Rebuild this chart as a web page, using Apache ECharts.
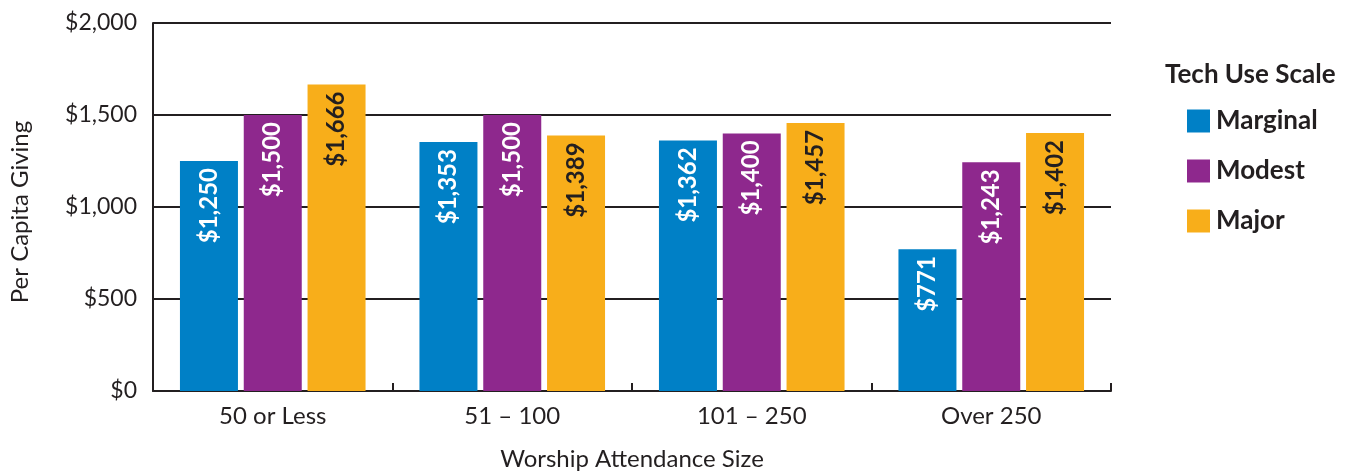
<!DOCTYPE html>
<html>
<head>
<meta charset="utf-8">
<script src="https://cdn.jsdelivr.net/npm/echarts@6/dist/echarts.min.js"></script>
<style>
  html, body { margin: 0; padding: 0; background: #fff; }
  #chart { width: 1364px; height: 476px; }
</style>
</head>
<body>
<div id="chart"></div>
<script>
var categories = ['50 or Less', '51 \u2013 100', '101 \u2013 250', 'Over 250'];
var seriesNames = ['Marginal', 'Modest', 'Major'];
var marginal = [1250, 1353, 1362, 771];
var modest = [1500, 1500, 1400, 1243];
var major = [1666, 1389, 1457, 1402];
var yTicks = [0, 500, 1000, 1500, 2000];

var ink = '#231f20';
var colors = ['#0080c6', '#8e288d', '#f8ae1a'];
var font = 'Lato, "Open Sans", sans-serif';

function money(v) {
  return '$' + v.toLocaleString('en-US');
}

function makeSeries(name, data, color, labelColor) {
  return {
    name: name,
    type: 'bar',
    data: data,
    barWidth: 58,
    barGap: '10%',
    itemStyle: { color: color },
    label: {
      show: true,
      position: 'insideTop',
      distance: 7,
      rotate: 90,
      align: 'right',
      verticalAlign: 'middle',
      color: labelColor,
      fontFamily: font,
      fontWeight: 'bold',
      fontSize: 24,
      formatter: function (p) { return money(p.value); }
    }
  };
}

var chart = echarts.init(document.getElementById('chart'));
chart.setOption({
  animation: false,
  backgroundColor: '#fff',
  title: {
    text: 'Tech Use Scale',
    left: 1160,
    top: 57,
    textStyle: { color: ink, fontFamily: font, fontWeight: 'bold', fontSize: 26 }
  },
  legend: {
    data: seriesNames,
    orient: 'vertical',
    left: 1182,
    top: 103,
    itemWidth: 23,
    itemHeight: 23,
    itemGap: 24,
    icon: 'rect',
    textStyle: { color: ink, fontFamily: font, fontWeight: 'bold', fontSize: 26, padding: [0, 0, 0, 1] }
  },
  grid: { left: 153, right: 253, top: 23, bottom: 81, containLabel: false },
  xAxis: {
    type: 'category',
    data: categories,
    name: 'Worship Attendance Size',
    nameLocation: 'middle',
    nameGap: 56,
    nameTextStyle: { color: ink, fontFamily: font, fontSize: 24 },
    axisLine: { lineStyle: { color: ink, width: 2 } },
    axisTick: { show: true, inside: true, length: 8, lineStyle: { color: ink, width: 2 } },
    axisLabel: { color: ink, fontFamily: font, fontSize: 24, margin: 13 }
  },
  yAxis: {
    type: 'value',
    min: yTicks[0],
    max: yTicks[yTicks.length - 1],
    interval: 500,
    name: 'Per Capita Giving',
    nameLocation: 'middle',
    nameGap: 121,
    nameTextStyle: { color: ink, fontFamily: font, fontSize: 24, padding: [0, 10, 0, 0] },
    axisLine: { show: true, lineStyle: { color: ink, width: 2 } },
    axisTick: { show: false },
    splitLine: { lineStyle: { color: ink, width: 2 } },
    axisLabel: { color: ink, fontFamily: font, fontSize: 23, margin: 16, formatter: money }
  },
  series: [
    makeSeries(seriesNames[0], marginal, colors[0], '#fff'),
    makeSeries(seriesNames[1], modest, colors[1], '#fff'),
    makeSeries(seriesNames[2], major, colors[2], ink)
  ]
});
</script>
</body>
</html>
